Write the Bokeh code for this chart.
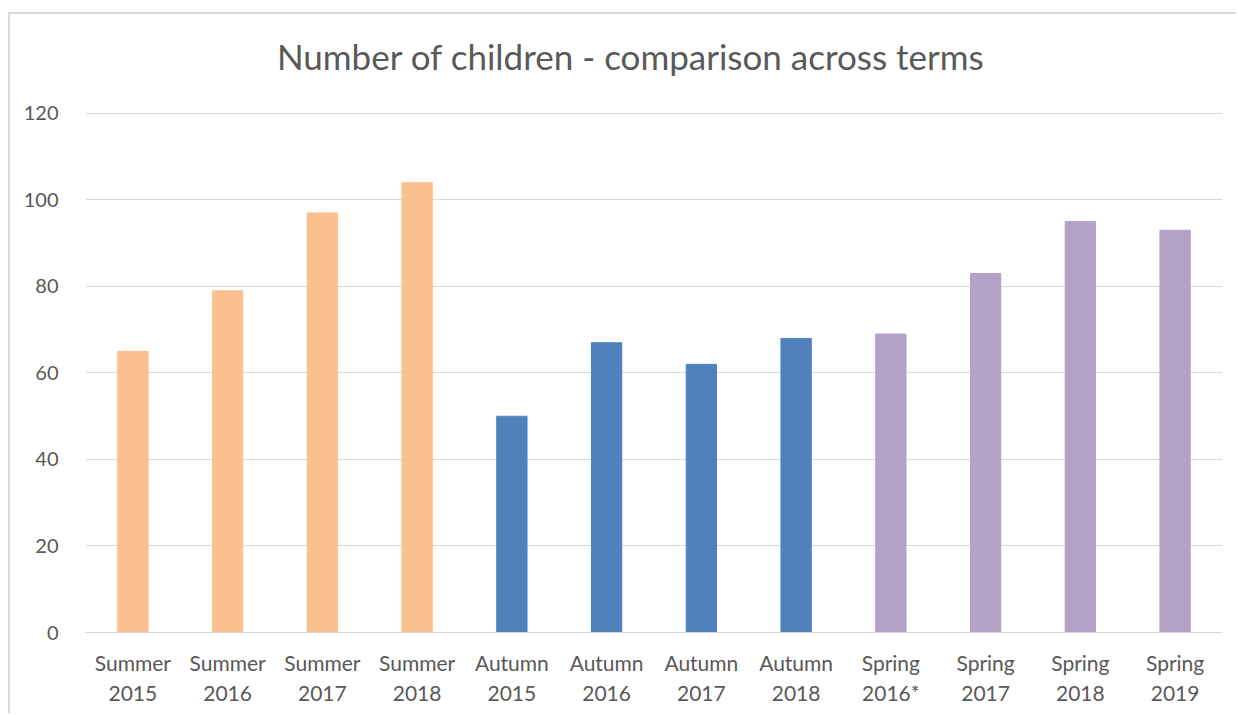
from bokeh.plotting import figure
from bokeh.models import ColumnDataSource, FactorRange, Range1d, Label
from bokeh.embed import file_html
from bokeh.resources import INLINE

categories = ["Summer\n2015", "Summer\n2016", "Summer\n2017", "Summer\n2018",
              "Autumn\n2015", "Autumn\n2016", "Autumn\n2017", "Autumn\n2018",
              "Spring\n2016*", "Spring\n2017", "Spring\n2018", "Spring\n2019"]
terms = ["Summer"] * 4 + ["Autumn"] * 4 + ["Spring"] * 4
children = [65, 79, 97, 104, 50, 67, 62, 68, 69, 83, 95, 93]
term_colors = {"Summer": "#FAC090", "Autumn": "#4F81BD", "Spring": "#B3A2C7"}
y_ticks = [0, 20, 40, 60, 80, 100, 120]
chart_title = "Number of children - comparison across terms"

FONT = "Lato"
TEXT = "#595959"
GRID = "#d9d9d9"

src = ColumnDataSource(dict(cat=categories, val=children,
                            color=[term_colors[t] for t in terms]))

# the frame extends above 120 to leave room for the title drawn inside it
p = figure(x_range=FactorRange(*categories), y_range=Range1d(0, 139.65),
           width=1228, height=701, output_backend="svg", toolbar_location=None,
           min_border_left=75, min_border_right=16, min_border_top=14, min_border_bottom=83)
p.margin = (12, 0, 0, 8)
p.styles = {"border-left": "2px solid #d9d9d9", "border-top": "2px solid #d9d9d9"}

p.vbar(x="cat", top="val", width=0.32, color="color", source=src)

p.add_layout(Label(x=5.757, y=133.4, text=chart_title, text_align="center",
                   text_baseline="alphabetic", text_font=FONT,
                   text_font_size="35px", text_color=TEXT))

p.outline_line_color = None
p.xgrid.grid_line_color = None
p.ygrid.grid_line_color = GRID
p.ygrid.grid_line_width = 1

p.yaxis.ticker = y_ticks
p.yaxis.axis_line_color = None
p.yaxis.major_tick_line_color = None
p.yaxis.minor_tick_line_color = None
p.yaxis.major_label_standoff = 21
p.yaxis.major_label_text_font = FONT
p.yaxis.major_label_text_font_size = "20px"
p.yaxis.major_label_text_color = TEXT

p.xaxis.axis_line_color = GRID
p.xaxis.axis_line_width = 1
p.xaxis.major_tick_line_color = None
p.xaxis.minor_tick_line_color = None
p.xaxis.major_label_standoff = 11
p.xaxis.major_label_text_font = FONT
p.xaxis.major_label_text_font_size = "21px"
p.xaxis.major_label_text_color = TEXT

open("out.html", "w").write(file_html(p, INLINE))
